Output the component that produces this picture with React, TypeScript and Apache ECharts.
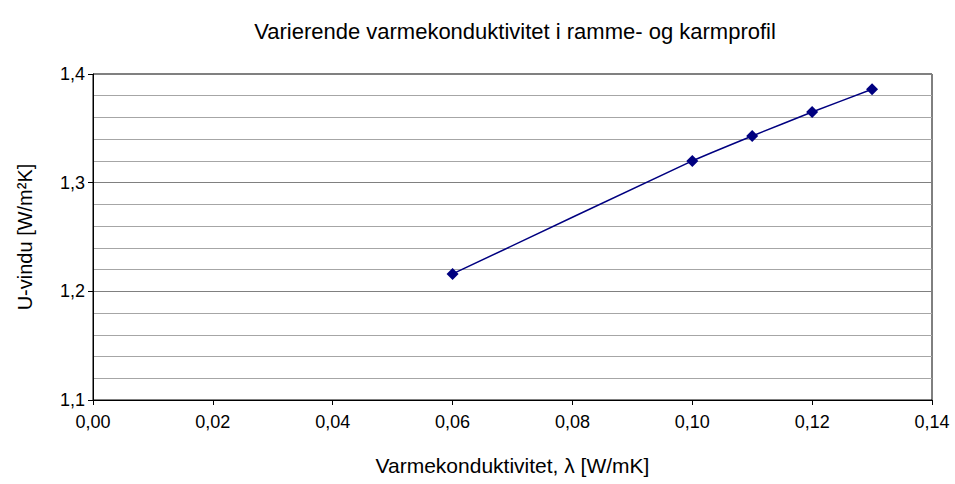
import React, { useEffect, useRef } from "react";
import * as echarts from "echarts";

const lambdaValues = [0.06, 0.1, 0.11, 0.12, 0.13];
const uValues = [1.216, 1.32, 1.343, 1.365, 1.386];

const FONT = "'Liberation Sans', Arial, sans-serif";

export default function App() {
  const ref = useRef<HTMLDivElement>(null);
  useEffect(() => {
    if (!ref.current) return;
    const chart = echarts.init(ref.current, null, { renderer: "svg" });
    const fmt = (v: number, d: number) => v.toFixed(d).replace(".", ",");
    chart.setOption({
      animation: false,
      backgroundColor: "#ffffff",
      title: {
        text: "Varierende varmekonduktivitet i ramme- og karmprofil",
        left: 510,
        top: 15,
        textAlign: "center",
        textStyle: { fontFamily: FONT, fontSize: 22, fontWeight: "normal", color: "#000" },
      },
      grid: { left: 93, right: 23, top: 74, bottom: 84, show: true, borderColor: "#000", borderWidth: 1 },
      xAxis: {
        type: "value",
        min: 0,
        max: 0.14,
        interval: 0.02,
        name: "Varmekonduktivitet, λ [W/mK]",
        nameLocation: "middle",
        nameGap: 55,
        nameTextStyle: { fontFamily: FONT, fontSize: 21, color: "#000" },
        axisLine: { lineStyle: { color: "#000" } },
        axisTick: { show: true, length: 5, lineStyle: { color: "#000" } },
        axisLabel: { fontFamily: FONT, fontSize: 18, color: "#000", margin: 13, formatter: (v: number) => fmt(v, 2) },
        splitLine: { show: false },
      },
      yAxis: {
        type: "value",
        min: 1.1,
        max: 1.4,
        interval: 0.1,
        name: "U-vindu [W/m²K]",
        nameLocation: "middle",
        nameGap: 58,
        nameTextStyle: { fontFamily: FONT, fontSize: 20, color: "#000" },
        axisLine: { show: true, lineStyle: { color: "#000" } },
        axisTick: { show: true, length: 5, lineStyle: { color: "#000" } },
        axisLabel: { fontFamily: FONT, fontSize: 18, color: "#000", margin: 8, formatter: (v: number) => fmt(v, 1) },
        splitLine: { show: true, lineStyle: { color: "#808080", width: 1 } },
        minorTick: { show: false, splitNumber: 5 },
        minorSplitLine: { show: true, lineStyle: { color: "#a6a6a6", width: 1 } },
      },
      series: [
        {
          type: "line",
          data: lambdaValues.map((x, i) => [x, uValues[i]]),
          smooth: 0.15,
          symbol: "diamond",
          symbolSize: 12,
          lineStyle: { color: "#000080", width: 1.5 },
          itemStyle: { color: "#000080" },
        },
      ],
    });
    return () => chart.dispose();
  }, []);
  return <div ref={ref} style={{ width: 955, height: 484, position: "absolute", left: 0, top: 0 }} />;
}
